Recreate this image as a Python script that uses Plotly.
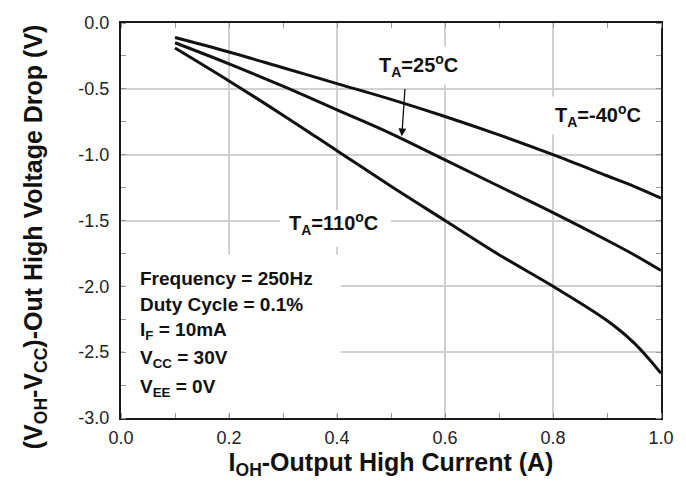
import plotly.graph_objects as go

# Data
current_a = [0.1, 0.2, 0.3, 0.4, 0.5, 0.6, 0.7, 0.8, 0.9, 0.95, 1.0]
drop_m40 = [-0.11, -0.22, -0.34, -0.46, -0.58, -0.71, -0.85, -1.00, -1.16, -1.24, -1.33]
drop_25 = [-0.15, -0.31, -0.48, -0.66, -0.84, -1.04, -1.24, -1.44, -1.65, -1.76, -1.88]
drop_110 = [-0.19, -0.44, -0.70, -0.97, -1.24, -1.50, -1.76, -2.00, -2.26, -2.43, -2.66]

x_ticks = [0.0, 0.2, 0.4, 0.6, 0.8, 1.0]
x_tick_labels = ["0.0", "0.2", "0.4", "0.6", "0.8", "1.0"]
y_ticks = [0.0, -0.5, -1.0, -1.5, -2.0, -2.5, -3.0]
y_tick_labels = ["0.0", "-0.5", "-1.0", "-1.5", "-2.0", "-2.5", "-3.0"]

conditions = [
    "Frequency = 250Hz",
    "Duty Cycle = 0.1%",
    "I<sub>F</sub> = 10mA",
    "V<sub>CC</sub> = 30V",
    "V<sub>EE</sub> = 0V",
]
condition_y = [-1.94, -2.14, -2.34, -2.55, -2.77]

FONT = "Liberation Sans, Arial, sans-serif"
LINE = "#111111"

fig = go.Figure()
for series in (drop_m40, drop_25, drop_110):
    fig.add_trace(go.Scatter(
        x=current_a, y=series, mode="lines",
        line=dict(color=LINE, width=3, shape="spline", smoothing=1.0),
        showlegend=False, hoverinfo="skip",
    ))

# white patches behind labels (cover gridlines only)
fig.add_shape(type="rect", xref="x", yref="y", x0=0.005, x1=0.407, y0=-2.97, y1=-1.76,
              fillcolor="white", line_width=0, layer="between")
fig.add_shape(type="rect", xref="x", yref="y", x0=0.294, x1=0.50, y0=-1.70, y1=-1.42,
              fillcolor="white", line_width=0, layer="between")

bold = dict(family=FONT, size=20, color="#111111")
cond_font = dict(family=FONT, size=19, color="#111111")
title_font = dict(family=FONT, size=25, color="#111111")

def b(t):
    return "<b>" + t + "</b>"

fig.add_annotation(x=0.55, y=-0.32, text=b("T<sub>A</sub>=25<sup>o</sup>C"), showarrow=False,
                   font=bold, bgcolor="white", borderpad=4)
fig.add_annotation(x=0.884, y=-0.70, text=b("T<sub>A</sub>=-40<sup>o</sup>C"), showarrow=False,
                   font=bold, bgcolor="white", borderpad=4)
fig.add_annotation(x=0.394, y=-1.52, text=b("T<sub>A</sub>=110<sup>o</sup>C"), showarrow=False,
                   font=bold)
# arrow from 25C label to its curve
fig.add_annotation(x=0.52, y=-0.86, ax=0.526, ay=-0.49, axref="x", ayref="y", xref="x", yref="y",
                   text="", showarrow=True, arrowhead=2, arrowsize=1.2, arrowwidth=1.3,
                   arrowcolor=LINE)

for txt, yy in zip(conditions, condition_y):
    fig.add_annotation(x=0.032, y=yy, text=b(txt), showarrow=False, xanchor="left",
                       yanchor="middle", font=cond_font)

# y-axis title (placed as rotated text, slightly below plot centre as in the reference)
fig.add_annotation(xref="paper", yref="paper", x=-0.159, y=0.458, textangle=-90,
                   text=b("(V<sub>OH</sub>-V<sub>CC</sub>)-Out High Voltage Drop (V)"),
                   showarrow=False, xanchor="center", yanchor="middle", font=title_font)

axis_common = dict(
    showline=True, linecolor="#1a1a1a", linewidth=2, mirror="allticks",
    showgrid=True, gridcolor="#d0d0d0", gridwidth=1.5,
    zeroline=False, ticks="",
    tickfont=dict(family=FONT, size=18, color="#222222"),
)

fig.update_xaxes(
    range=[0, 1.0], tickvals=x_ticks, ticktext=x_tick_labels,
    minor=dict(dtick=0.1, tick0=0, ticks="inside", ticklen=5, tickcolor="#999999", showgrid=False),
    ticklabelstandoff=2,
    title=dict(text=b("I<sub>OH</sub>-Output High Current (A)"), font=title_font, standoff=5),
    **axis_common,
)
fig.update_yaxes(
    range=[-3.0, 0.0], tickvals=y_ticks, ticktext=y_tick_labels,
    minor=dict(dtick=0.25, tick0=0, ticks="inside", ticklen=5, tickcolor="#999999", showgrid=False),
    ticklabelstandoff=6,
    **axis_common,
)

fig.update_layout(
    width=686, height=490,
    margin=dict(l=113, r=33, t=15, b=80, autoexpand=False),
    paper_bgcolor="white", plot_bgcolor="white",
    font=dict(family=FONT),
)

fig.write_html("out.html")
